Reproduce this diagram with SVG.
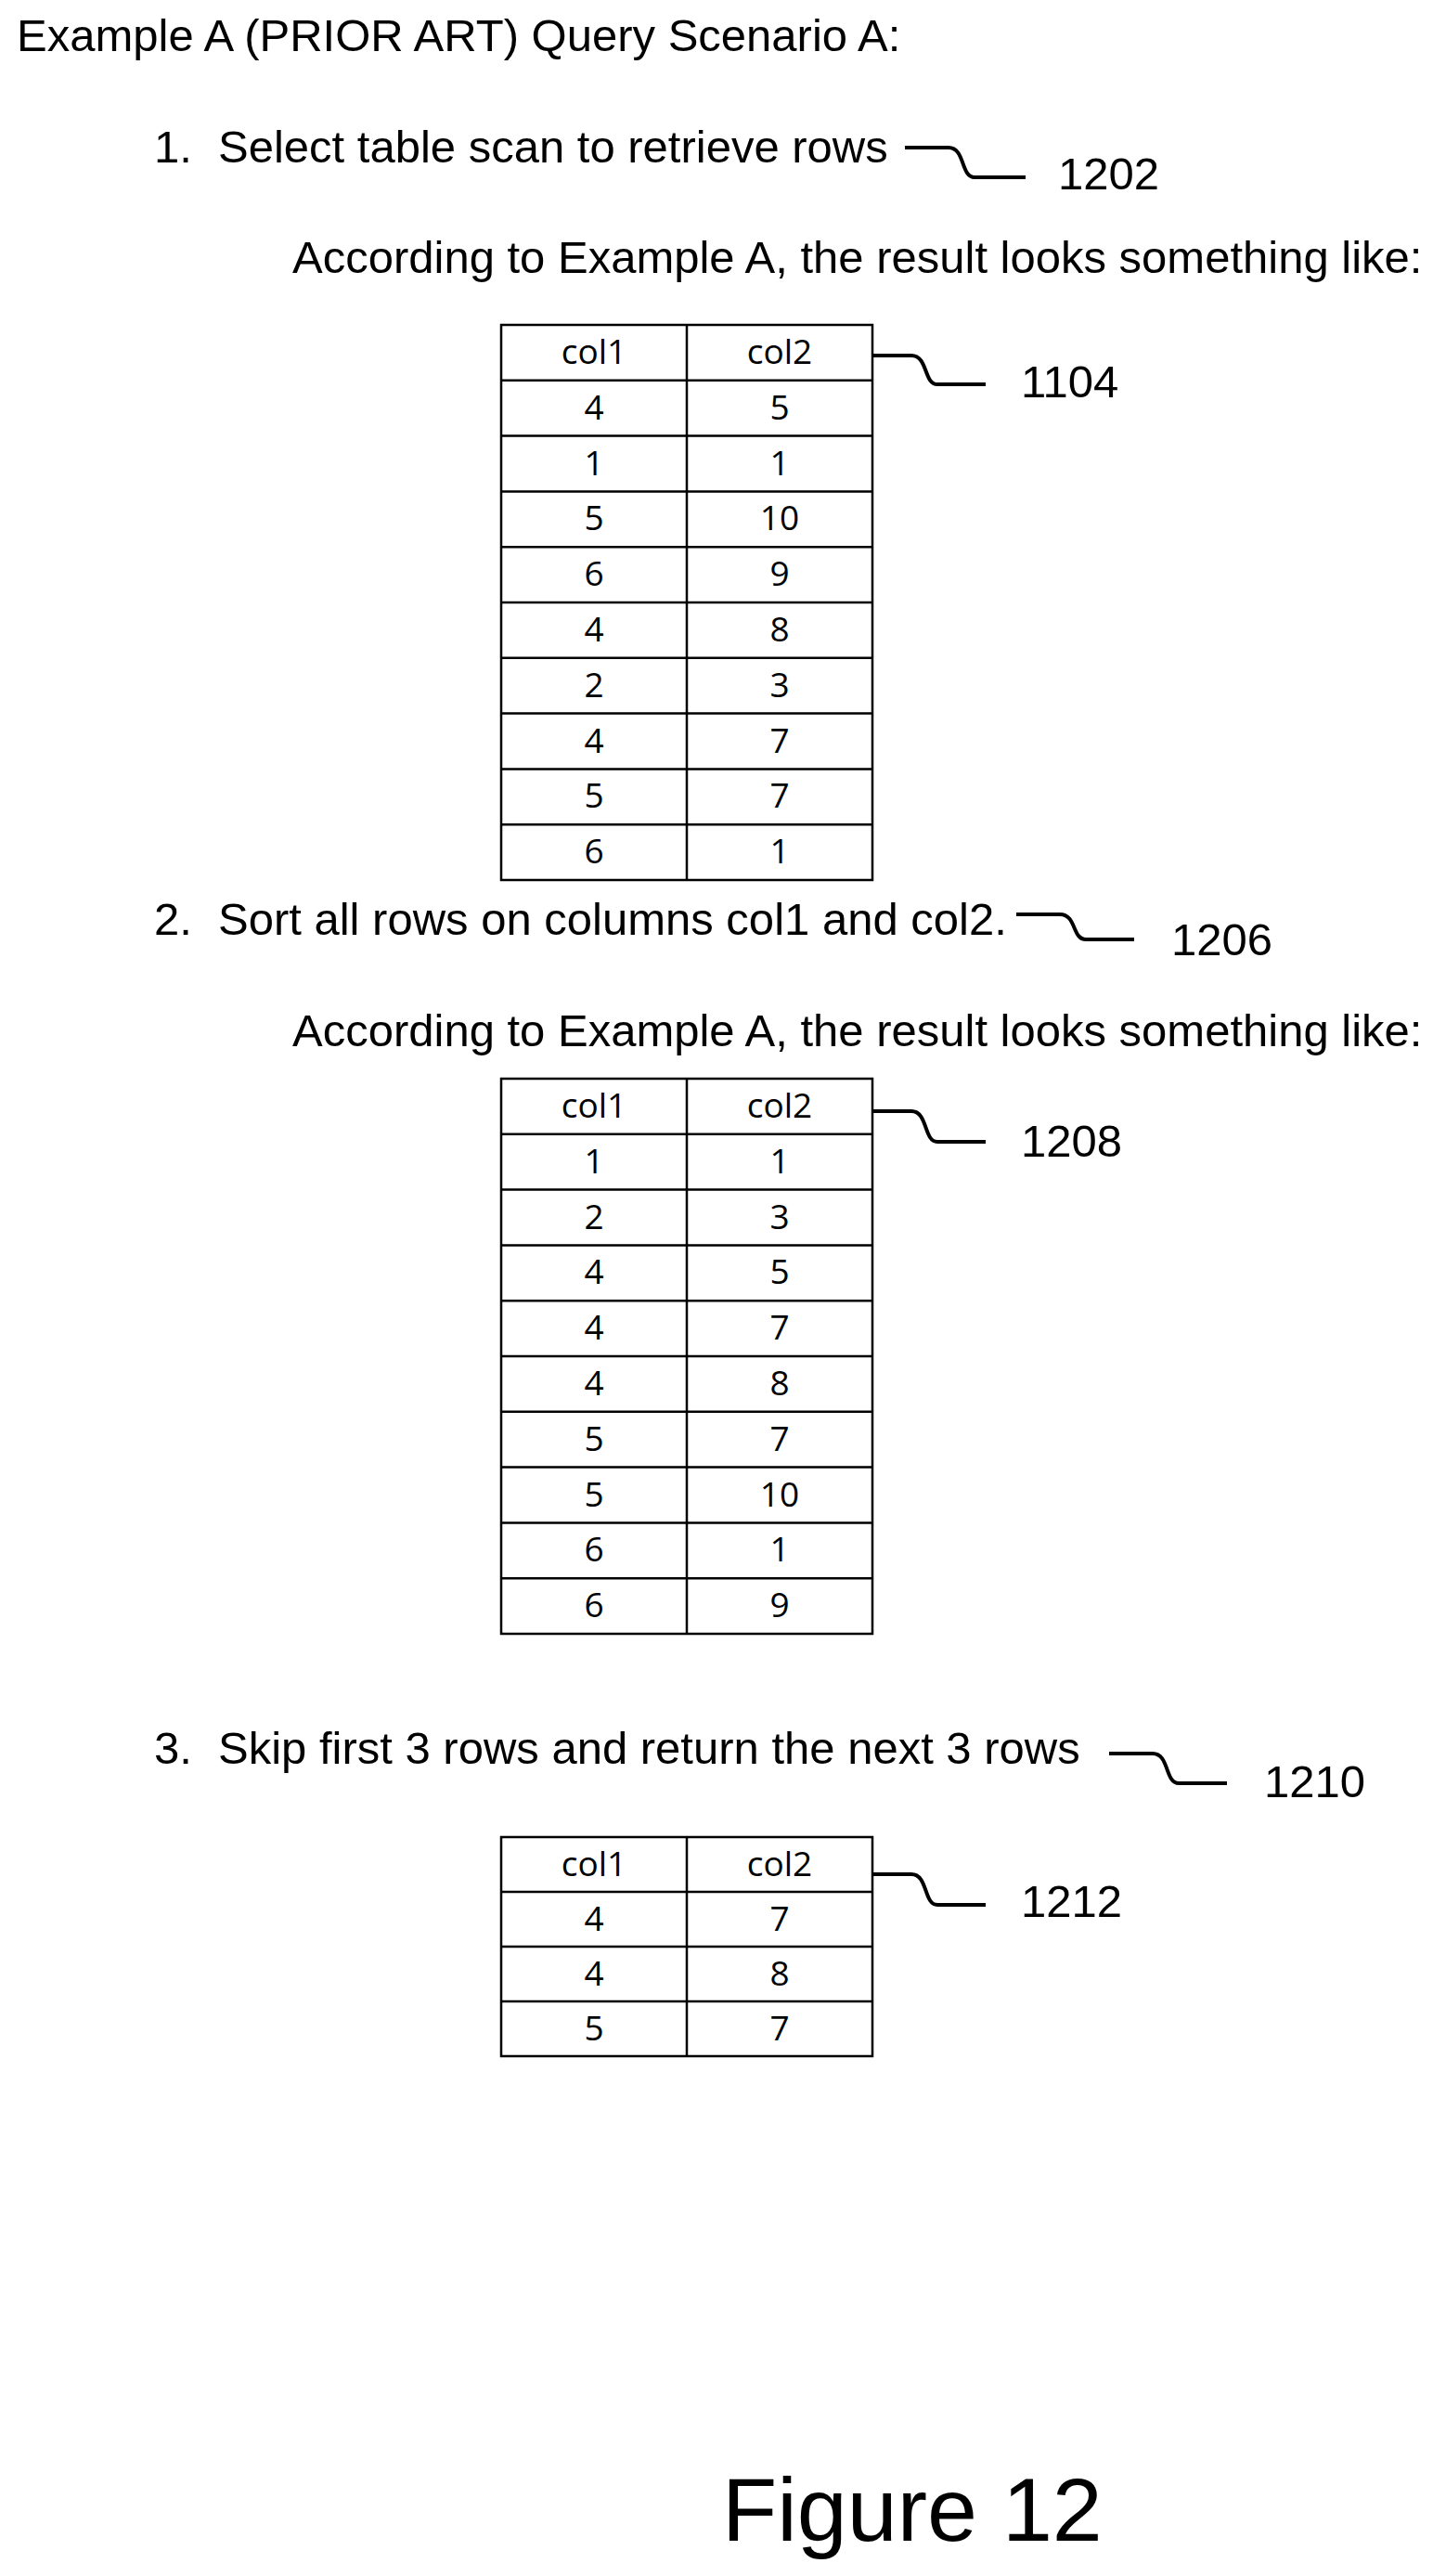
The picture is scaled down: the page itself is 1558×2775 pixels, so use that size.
<svg xmlns="http://www.w3.org/2000/svg" width="1558" height="2775" viewBox="0 0 1558 2775">
<style>
text{font-family:"Liberation Sans",Arial,sans-serif;fill:#000}
.t{font-size:49px}
.c{font-size:37px;font-family:"Open Sans","Liberation Sans",sans-serif;text-anchor:middle}
.g{fill:none;stroke:#000;stroke-width:2.5}
.l{fill:none;stroke:#000;stroke-width:4}
</style>
<rect width="1558" height="2775" fill="#fff"/>
<text class="t" x="18" y="55">Example A (PRIOR ART) Query Scenario A:</text>
<g id="step1"><text class="t" x="166" y="175">1.</text><text class="t" x="235" y="175">Select table scan to retrieve rows</text><text class="t" x="1140" y="204">1202</text></g>
<text class="t" x="315" y="294">According to Example A, the result looks something like:</text>
<g id="table1104">
<rect class="g" x="540" y="350" width="400" height="598"/>
<path class="g" d="M740 350V948M540 409.8H940M540 469.6H940M540 529.4H940M540 589.2H940M540 649H940M540 708.8H940M540 768.6H940M540 828.4H940M540 888.2H940"/>
<text class="c" x="640" y="392">col1</text><text class="c" x="840" y="392">col2</text>
<text class="c" x="640" y="452">4</text><text class="c" x="840" y="452">5</text>
<text class="c" x="640" y="512">1</text><text class="c" x="840" y="512">1</text>
<text class="c" x="640" y="571">5</text><text class="c" x="840" y="571">10</text>
<text class="c" x="640" y="631">6</text><text class="c" x="840" y="631">9</text>
<text class="c" x="640" y="691">4</text><text class="c" x="840" y="691">8</text>
<text class="c" x="640" y="751">2</text><text class="c" x="840" y="751">3</text>
<text class="c" x="640" y="811">4</text><text class="c" x="840" y="811">7</text>
<text class="c" x="640" y="870">5</text><text class="c" x="840" y="870">7</text>
<text class="c" x="640" y="930">6</text><text class="c" x="840" y="930">1</text>
<text class="t" x="1100" y="428">1104</text>
</g>
<g id="step2"><text class="t" x="166" y="1007">2.</text><text class="t" x="235" y="1007">Sort all rows on columns col1 and col2.</text><text class="t" x="1262" y="1029">1206</text></g>
<text class="t" x="315" y="1127">According to Example A, the result looks something like:</text>
<g id="table1208">
<rect class="g" x="540" y="1162" width="400" height="598"/>
<path class="g" d="M740 1162V1760M540 1221.8H940M540 1281.6H940M540 1341.4H940M540 1401.2H940M540 1461H940M540 1520.8H940M540 1580.6H940M540 1640.4H940M540 1700.2H940"/>
<text class="c" x="640" y="1204">col1</text><text class="c" x="840" y="1204">col2</text>
<text class="c" x="640" y="1264">1</text><text class="c" x="840" y="1264">1</text>
<text class="c" x="640" y="1324">2</text><text class="c" x="840" y="1324">3</text>
<text class="c" x="640" y="1383">4</text><text class="c" x="840" y="1383">5</text>
<text class="c" x="640" y="1443">4</text><text class="c" x="840" y="1443">7</text>
<text class="c" x="640" y="1503">4</text><text class="c" x="840" y="1503">8</text>
<text class="c" x="640" y="1563">5</text><text class="c" x="840" y="1563">7</text>
<text class="c" x="640" y="1623">5</text><text class="c" x="840" y="1623">10</text>
<text class="c" x="640" y="1682">6</text><text class="c" x="840" y="1682">1</text>
<text class="c" x="640" y="1742">6</text><text class="c" x="840" y="1742">9</text>
<text class="t" x="1100" y="1246">1208</text>
</g>
<g id="step3"><text class="t" x="166" y="1900">3.</text><text class="t" x="235" y="1900">Skip first 3 rows and return the next 3 rows</text><text class="t" x="1362" y="1936">1210</text></g>
<g id="table1212">
<rect class="g" x="540" y="1979" width="400" height="236"/>
<path class="g" d="M740 1979V2215M540 2038H940M540 2097H940M540 2156H940"/>
<text class="c" x="640" y="2021">col1</text><text class="c" x="840" y="2021">col2</text>
<text class="c" x="640" y="2080">4</text><text class="c" x="840" y="2080">7</text>
<text class="c" x="640" y="2139">4</text><text class="c" x="840" y="2139">8</text>
<text class="c" x="640" y="2198">5</text><text class="c" x="840" y="2198">7</text>
<text class="t" x="1100" y="2065">1212</text>
</g>
<g id="connectors">
<path class="l" d="M975 159H1022C1040 159 1035 191 1050 191H1105"/>
<path class="l" d="M940 383H982C1000 383 995 414 1010 414H1062"/>
<path class="l" d="M1095 985H1142C1160 985 1155 1012 1170 1012H1222"/>
<path class="l" d="M940 1197H982C1000 1197 995 1230 1010 1230H1062"/>
<path class="l" d="M1195 1889H1242C1260 1889 1255 1921 1270 1921H1322"/>
<path class="l" d="M940 2019H982C1000 2019 995 2052 1010 2052H1062"/>
</g>
<text x="778" y="2737" style="font-size:97px">Figure 12</text>
</svg>
